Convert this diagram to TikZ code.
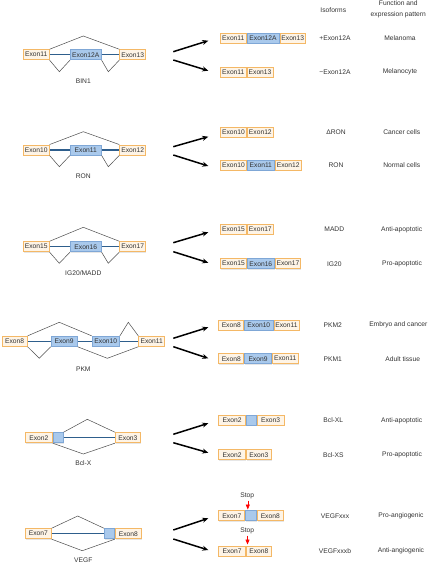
\documentclass[tikz,border=0pt]{standalone}
\usepackage{fontspec}
\setmainfont{Liberation Sans}
\usetikzlibrary{arrows.meta,shadows}
\definecolor{orbd}{HTML}{F4B866}
\definecolor{orfill}{HTML}{FEF4E6}
\definecolor{blbd}{HTML}{7FA7D6}
\definecolor{blfill}{HTML}{A9C9EC}
\definecolor{blline}{HTML}{2E5E8C}
\definecolor{txt}{HTML}{333333}
\tikzset{
  exbox/.style={draw=orbd, fill=orfill, line width=0.9pt, minimum height=10pt, inner sep=0pt,
    font=\fontsize{6.7}{8}\selectfont, text=txt, anchor=west,
    drop shadow={shadow xshift=0.6pt, shadow yshift=-0.8pt, opacity=0.2}},
  blbox/.style={exbox, draw=blbd, fill=blfill},
  splice/.style={draw=black!70, line width=0.5pt},
  bline/.style={draw=blline, line width=1.3pt},
  bigarrow/.style={draw=black, line width=1.5pt, -{Stealth[length=6pt,width=5pt]}},
  lab/.style={font=\fontsize{6.7}{8}\selectfont, text=txt, inner sep=0pt},
  stopmark/.style={draw=red!85!black, line width=0.6pt, -{Triangle[length=5pt,width=4pt]}, red}
}
\begin{document}
\begin{tikzpicture}[x=1pt,y=-1pt]
\useasboundingbox (0,0) rectangle (433,564);
% headers
\node[lab] (hIso) at (333.3,10) {Isoforms};
\node[lab, align=center, font=\fontsize{6.7}{11.5}\selectfont] (hFun) at (398.3,9.3) {Function and\\expression pattern};

% ===== BIN1 =====
\node[exbox, minimum width=26pt] (a1) at (22.7,54.7) {Exon11};
\node[blbox, minimum width=30.7pt] (a2) at (70,54.7) {Exon12A};
\node[exbox, minimum width=26pt] (a3) at (119.3,54.7) {Exon13};
\coordinate (apk) at (83.3,36);
\coordinate (av1) at (59.3,71.7);
\coordinate (av2) at (108.3,71.7);
\draw[bline] (a1.east) -- (a2.west) (a2.east) -- (a3.west);
\draw[splice] (a1.north east) -- (apk) -- (a3.north west);
\draw[splice] (a1.south east) -- (av1) -- (a2.south west);
\draw[splice] (a2.south east) -- (av2) -- (a3.south west);
\node[lab] (aname) at (83.3,81) {BIN1};
\coordinate (aas1) at (173.3,51.7); \coordinate (aae1) at (208.3,40.7);
\coordinate (aas2) at (173.3,60); \coordinate (aae2) at (208.3,70.7);
\draw[bigarrow] (aas1) -- (aae1);
\draw[bigarrow] (aas2) -- (aae2);
\node[exbox, minimum width=25.7pt] (ar1) at (220,38) {Exon11};
\node[blbox, minimum width=32pt] (ar2) at (ar1.east) {Exon12A};
\node[exbox, minimum width=25.7pt] (ar3) at (ar2.east) {Exon13};
\node[exbox, minimum width=25.7pt] (as1) at (220,72) {Exon11};
\node[exbox, minimum width=26pt] (as2) at (as1.east) {Exon13};
\node[lab] (ai1) at (335,38) {+Exon12A};
\node[lab] (af1) at (400,38) {Melanoma};
\node[lab] (ai2) at (335,72) {−Exon12A};
\node[lab] (af2) at (400,72) {Melanocyte};

% ===== RON =====
\node[exbox, minimum width=26pt] (b1) at (22.7,150) {Exon10};
\node[blbox, minimum width=30.7pt] (b2) at (70,150) {Exon11};
\node[exbox, minimum width=26pt] (b3) at (119.3,150) {Exon12};
\coordinate (bpk) at (83.3,131.7);
\coordinate (bv1) at (59.3,166.7);
\coordinate (bv2) at (108.3,166.7);
\draw[bline] (b1.east) -- (b2.west) (b2.east) -- (b3.west);
\draw[splice] (b1.north east) -- (bpk) -- (b3.north west);
\draw[splice] (b1.south east) -- (bv1) -- (b2.south west);
\draw[splice] (b2.south east) -- (bv2) -- (b3.south west);
\node[lab] (bname) at (83.3,176) {RON};
\coordinate (bas1) at (173.3,146.7); \coordinate (bae1) at (208.3,136.7);
\coordinate (bas2) at (173.3,155); \coordinate (bae2) at (208.3,166);
\draw[bigarrow] (bas1) -- (bae1);
\draw[bigarrow] (bas2) -- (bae2);
\node[exbox, minimum width=26pt] (br1) at (220,132) {Exon10};
\node[exbox, minimum width=26pt] (br2) at (br1.east) {Exon12};
\node[exbox, minimum width=26pt] (bs1) at (220,165.5) {Exon10};
\node[blbox, minimum width=27pt] (bs2) at (bs1.east) {Exon11};
\node[exbox, minimum width=26pt] (bs3) at (bs2.east) {Exon12};
\node[lab] (bi1) at (336,132) {ΔRON};
\node[lab] (bf1) at (401.7,132) {Cancer cells};
\node[lab] (bi2) at (336,165.5) {RON};
\node[lab] (bf2) at (401.7,165.5) {Normal cells};

% ===== IG20/MADD =====
\node[exbox, minimum width=26pt] (c1) at (22.7,246.7) {Exon15};
\node[blbox, minimum width=30.7pt] (c2) at (70,246.7) {Exon16};
\node[exbox, minimum width=26pt] (c3) at (119.3,246.7) {Exon17};
\coordinate (cpk) at (83.3,227.3);
\coordinate (cv1) at (59.3,263.3);
\coordinate (cv2) at (108.3,263.3);
\draw[bline] (c1.east) -- (c2.west) (c2.east) -- (c3.west);
\draw[splice] (c1.north east) -- (cpk) -- (c3.north west);
\draw[splice] (c1.south east) -- (cv1) -- (c2.south west);
\draw[splice] (c2.south east) -- (cv2) -- (c3.south west);
\node[lab] (cname) at (83.3,272.7) {IG20/MADD};
\coordinate (cas1) at (173.3,242.7); \coordinate (cae1) at (208.3,232.3);
\coordinate (cas2) at (173.3,251.7); \coordinate (cae2) at (208.3,262.7);
\draw[bigarrow] (cas1) -- (cae1);
\draw[bigarrow] (cas2) -- (cae2);
\node[exbox, minimum width=26pt] (cr1) at (220,229.5) {Exon15};
\node[exbox, minimum width=26pt] (cr2) at (cr1.east) {Exon17};
\node[exbox, minimum width=26pt] (cs1) at (220,263.7) {Exon15};
\node[blbox, minimum width=27pt] (cs2) at (cs1.east) {Exon16};
\node[exbox, minimum width=25.5pt] (cs3) at (cs2.east) {Exon17};
\node[lab] (ci1) at (334.3,229.5) {MADD};
\node[lab] (cf1) at (401.7,229.5) {Anti-apoptotic};
\node[lab] (ci2) at (334.3,263.7) {IG20};
\node[lab] (cf2) at (402,263.7) {Pro-apoptotic};

% ===== PKM =====
\node[exbox, minimum width=25pt] (d1) at (1.7,341.3) {Exon8};
\node[blbox, minimum width=26pt] (d2) at (50.7,341.3) {Exon9};
\node[blbox, minimum width=27.3pt] (d3) at (91.7,341.3) {Exon10};
\node[exbox, minimum width=26pt] (d4) at (138.3,341.3) {Exon11};
\coordinate (dpk1) at (59.3,322.3);
\coordinate (dpk2) at (128.3,322.3);
\coordinate (dv1) at (39.3,358.3);
\coordinate (dv2) at (107.3,358.3);
\draw[bline] (d1.east) -- (d2.west) (d2.east) -- (d3.west) (d3.east) -- (d4.west);
\draw[splice] (d1.north east) -- (dpk1) -- (d3.north west);
\draw[splice] (d3.north east) -- (dpk2) -- (d4.north west);
\draw[splice] (d1.south east) -- (dv1) -- (d2.south west);
\draw[splice] (d2.south east) -- (dv2) -- (d4.south west);
\node[lab] (dname) at (83.3,369) {PKM};
\coordinate (das1) at (173.3,338.3); \coordinate (dae1) at (208.3,327.3);
\coordinate (das2) at (173.3,346.7); \coordinate (dae2) at (208.3,358.3);
\draw[bigarrow] (das1) -- (dae1);
\draw[bigarrow] (das2) -- (dae2);
\node[exbox, minimum width=25pt] (dr1) at (218.3,325) {Exon8};
\node[blbox, minimum width=28.4pt] (dr2) at (dr1.east) {Exon10};
\node[exbox, minimum width=25pt] (dr3) at (dr2.east) {Exon11};
\node[exbox, minimum width=25pt] (ds1) at (218.3,358.7) {Exon8};
\node[blbox, minimum width=26.7pt] (ds2) at (ds1.east) {Exon9};
\node[exbox, minimum width=26pt] (ds3) at (ds2.east) {Exon11};
\node[lab] (di1) at (332.7,325) {PKM2};
\node[lab] (df1) at (398.3,325) {Embryo and cancer};
\node[lab] (di2) at (332.7,358.7) {PKM1};
\node[lab] (df2) at (402.7,358.7) {Adult tissue};

% ===== Bcl-X =====
\node[exbox, minimum width=26.7pt] (e1) at (25,437.7) {Exon2};
\node[blbox, minimum width=10pt] (e2) at (e1.east) {};
\node[exbox, minimum width=25pt] (e3) at (115,437.7) {Exon3};
\coordinate (epk) at (87.3,419.3);
\coordinate (ev) at (83.3,454);
\draw[bline] (e2.east) -- (e3.west);
\draw[splice] (e2.north east) -- (epk) -- (e3.north west);
\draw[splice] (e1.south east) -- (ev) -- (e3.south west);
\node[lab] (ename) at (83.3,462.7) {Bcl-X};
\coordinate (eas1) at (173.3,434.3); \coordinate (eae1) at (208.3,423.3);
\coordinate (eas2) at (173.3,442.7); \coordinate (eae2) at (208.3,452.7);
\draw[bigarrow] (eas1) -- (eae1);
\draw[bigarrow] (eas2) -- (eae2);
\node[exbox, minimum width=26.7pt] (er1) at (218.3,420.3) {Exon2};
\node[blbox, minimum width=10pt] (er2) at (er1.east) {};
\node[exbox, minimum width=26.7pt] (er3) at (er2.east) {Exon3};
\node[exbox, minimum width=26.7pt] (es1) at (218.3,454.7) {Exon2};
\node[exbox, minimum width=25pt] (es2) at (es1.east) {Exon3};
\node[lab] (ei1) at (333.3,420.3) {Bcl-XL};
\node[lab] (ef1) at (401.7,420.3) {Anti-apoptotic};
\node[lab] (ei2) at (333.3,454.7) {Bcl-XS};
\node[lab] (ef2) at (402,454.7) {Pro-apoptotic};

% ===== VEGF =====
\node[exbox, minimum width=25.7pt] (f1) at (25,533.7) {Exon7};
\node[blbox, minimum width=10pt] (f2) at (104,533.7) {};
\node[exbox, minimum width=26pt] (f3) at (f2.east) {Exon8};
\coordinate (fpk) at (77.7,516);
\coordinate (fv) at (82.3,550.7);
\draw[bline] (f1.east) -- (f2.west);
\draw[splice] (f1.north east) -- (fpk) -- (f2.north west);
\draw[splice] (f1.south east) -- (fv) -- (f2.south east);
\node[lab] (fname) at (83.3,560) {VEGF};
\coordinate (fas1) at (173.3,530); \coordinate (fae1) at (208.3,518.3);
\coordinate (fas2) at (173.3,539); \coordinate (fae2) at (208.3,550);
\draw[bigarrow] (fas1) -- (fae1);
\draw[bigarrow] (fas2) -- (fae2);
\node[exbox, minimum width=26pt] (fr1) at (218.3,515.8) {Exon7};
\node[blbox, minimum width=10.7pt] (fr2) at (fr1.east) {};
\node[exbox, minimum width=26pt] (fr3) at (fr2.east) {Exon8};
\node[exbox, minimum width=26.7pt] (fs1) at (218.3,551) {Exon7};
\node[exbox, minimum width=25pt] (fs2) at (fs1.east) {Exon8};
\node[lab] (stop1) at (247.3,496) {Stop};
\node[lab] (stop2) at (247.3,531) {Stop};
\coordinate (t1) at (247.8,509.5);
\coordinate (t2) at (247.5,544.5);
\draw[stopmark] (stop1.south) ++(0.5,1.5) -- (t1);
\draw[stopmark] (stop2.south) ++(0.2,1.5) -- (t2);
\node[lab] (fi1) at (335,515.8) {VEGFxxx};
\node[lab] (ff1) at (401,515.8) {Pro-angiogenic};
\node[lab] (fi2) at (335,551) {VEGFxxxb};
\node[lab] (ff2) at (401,551) {Anti-angiogenic};
\end{tikzpicture}
\end{document}
